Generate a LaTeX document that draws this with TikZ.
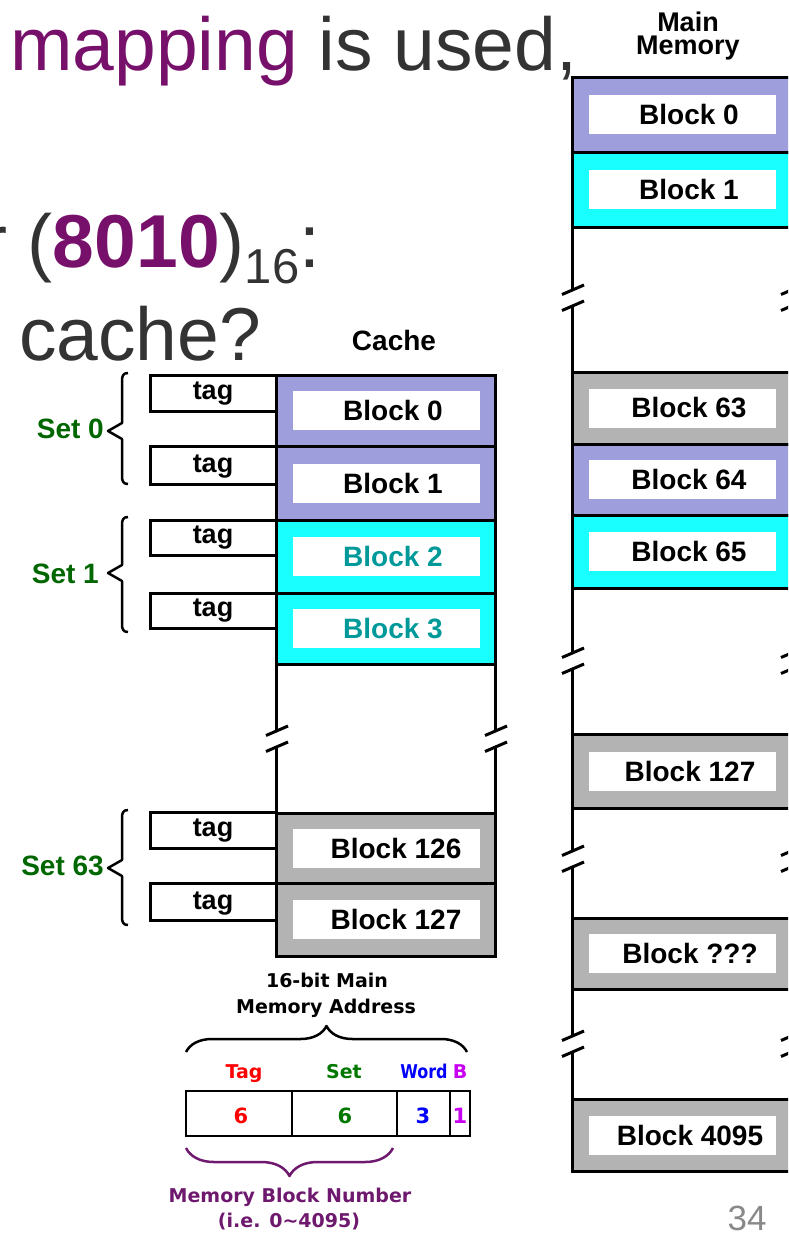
\documentclass[tikz,border=0pt]{standalone}
\usepackage{fontspec}
\setmainfont{Liberation Sans}
\newfontfamily\dvs{DejaVu Sans}
\usetikzlibrary{decorations.pathreplacing}
\definecolor{lav}{RGB}{158,158,220}
\definecolor{cyn}{RGB}{25,255,255}
\definecolor{gry}{RGB}{179,179,179}
\definecolor{txtgray}{RGB}{51,51,51}
\definecolor{slidepurple}{RGB}{118,16,106}
\definecolor{setgreen}{RGB}{0,102,0}
\definecolor{tealtxt}{RGB}{0,153,153}
\definecolor{pagegray}{RGB}{137,137,137}
\definecolor{addrred}{RGB}{255,0,0}
\definecolor{addrgreen}{RGB}{0,120,0}
\definecolor{addrblue}{RGB}{0,0,255}
\definecolor{addrmag}{RGB}{200,0,240}
\definecolor{bracepurple}{RGB}{110,25,110}
% block: name, x1, y1, x2, y2, fill, text, text colour, text x
\newcommand\mblock[9]{%
  \fill[#6] (#2,#3) rectangle (#4,#5);
  \fill[white] ({#2+17},{(#3+#5)/2-19.5}) rectangle ({#4-15},{(#3+#5)/2+19.5});
  \node[blocktext,text=#8] (#1) at (#9,{(#3+#5)/2}) {#7};
  \draw[frame] (#2,#3) rectangle (#4,#5);
}
% column gap with break marks: x, top, bottom, centre
\newcommand\gapcol[4]{%
  \draw[frame] (#1,#2) -- (#1,#4-8);
  \draw[frame] (#1,#4+8) -- (#1,#3);
  \draw[frame] (#1-10,#4-3.5) -- (#1+12,#4-13);
  \draw[frame] (#1-10,#4+12.5) -- (#1+12,#4+3);
}
% left curly brace: x of straight part, top y, bottom y, tip y
\newcommand\setbrace[4]{%
  \draw[bracestyle] (#1+6,#2) .. controls (#1+1,#2) and (#1,#2+3) .. (#1,#2+8)
    -- (#1,#4-8) -- (#1-14,#4) -- (#1,#4+8) -- (#1,#3-8)
    .. controls (#1,#3-3) and (#1+1,#3) .. (#1+6,#3);
}
\begin{document}
\begin{tikzpicture}[x=1pt,y=-1pt,
  frame/.style={draw=black,line width=3pt},
  blocktext/.style={font=\fontsize{28}{28}\selectfont\bfseries,inner sep=0pt},
  tagtext/.style={font=\fontsize{27}{27}\selectfont\bfseries,inner sep=0pt,anchor=base},
  setlabel/.style={font=\fontsize{28}{28}\selectfont\bfseries,text=setgreen,inner sep=0pt,anchor=east},
  bigtext/.style={font=\fontsize{75}{75}\selectfont,text=txtgray,inner sep=0pt,anchor=base west},
  addr/.style={font=\dvs\bfseries\fontsize{19}{19}\selectfont,inner sep=0pt,anchor=base},
  addrnum/.style={font=\dvs\bfseries\fontsize{21}{21}\selectfont,inner sep=0pt,anchor=base},
  bracestyle/.style={draw=black,line width=2.5pt,line join=round}]
\useasboundingbox (0,0) rectangle (788,1234);
\clip (0,0) rectangle (788,1234);

% slide text
\node[bigtext] (title) at (10,70) {\textcolor{slidepurple}{mapping} is used,};
\node[bigtext] (hexline) at (-18,267) {r (\textcolor{slidepurple}{\bfseries 8010})\raisebox{-16pt}{\fontsize{49}{49}\selectfont 16}:};
\node[bigtext] (question) at (19,360) {cache?};
\node[font=\fontsize{35}{35}\selectfont,text=pagegray,inner sep=0pt,anchor=base] (pagenum) at (747,1230) {34};

% main memory
\node[font=\fontsize{27}{24}\selectfont\bfseries,inner sep=0pt,anchor=base] (mmlabel1) at (688,31) {Main};
\node[font=\fontsize{27}{24}\selectfont\bfseries,inner sep=0pt,anchor=base] (mmlabel2) at (688,54) {Memory};
\mblock{mb0}{572}{77}{791}{152}{lav}{Block 0}{black}{689}
\mblock{mb1}{572}{152}{791}{227}{cyn}{Block 1}{black}{689}
\gapcol{572}{227}{372}{298}
\gapcol{791}{227}{372}{298}
\mblock{mb63}{572}{372}{791}{444}{gry}{Block 63}{black}{689}
\mblock{mb64}{572}{444}{791}{515}{lav}{Block 64}{black}{689}
\mblock{mb65}{572}{515}{791}{588}{cyn}{Block 65}{black}{689}
\gapcol{572}{588}{734}{661}
\gapcol{791}{588}{734}{661}
\mblock{mb127}{572}{734}{791}{808}{gry}{Block 127}{black}{690}
\gapcol{572}{808}{918}{859}
\gapcol{791}{808}{918}{859}
\mblock{mbq}{572}{918}{791}{989}{gry}{Block ???}{black}{690}
\gapcol{572}{989}{1099}{1044}
\gapcol{791}{989}{1099}{1044}
\mblock{mb4095}{572}{1099}{791}{1171}{gry}{Block 4095}{black}{690}

% cache
\node[font=\fontsize{28}{28}\selectfont\bfseries,inner sep=0pt,anchor=base] (cachelabel) at (394,350) {Cache};
\mblock{cb0}{276}{375}{495}{446}{lav}{Block 0}{black}{393}
\mblock{cb1}{276}{446}{495}{520}{lav}{Block 1}{black}{393}
\mblock{cb2}{276}{520}{495}{593}{cyn}{Block 2}{tealtxt}{393}
\mblock{cb3}{276}{593}{495}{664}{cyn}{Block 3}{tealtxt}{393}
\gapcol{276}{664}{813}{739}
\gapcol{495}{664}{813}{739}
\mblock{cb126}{276}{813}{495}{883}{gry}{Block 126}{black}{396}
\mblock{cb127}{276}{883}{495}{956}{gry}{Block 127}{black}{396}

% tags
\draw[frame] (150,375) rectangle (276,411);
\node[tagtext] (tag1) at (213,399) {tag};
\draw[frame] (150,446) rectangle (276,484);
\node[tagtext] (tag2) at (213,472) {tag};
\draw[frame] (150,520) rectangle (276,555);
\node[tagtext] (tag3) at (213,543) {tag};
\draw[frame] (150,593) rectangle (276,628);
\node[tagtext] (tag4) at (213,616) {tag};
\draw[frame] (150,812) rectangle (276,848);
\node[tagtext] (tag5) at (213,836) {tag};
\draw[frame] (150,883) rectangle (276,920);
\node[tagtext] (tag6) at (213,909) {tag};

% sets
\setbrace{122}{373}{484}{431}
\node[setlabel] (set0) at (104,429) {Set 0};
\setbrace{122}{517}{632}{573}
\node[setlabel] (set1) at (99,574) {Set 1};
\setbrace{122}{810}{925}{868}
\node[setlabel] (set63) at (104,866) {Set 63};

% address format
\node[addr] (addr1) at (327,987) {16-bit Main};
\node[addr] (addr2) at (326,1013) {Memory Address};
\draw[bracestyle,decorate,decoration={brace,amplitude=26pt}] (186,1052) -- (467,1052);
\node[addr,text=addrred] (ftag) at (244,1078) {Tag};
\node[addr,text=addrgreen] (fset) at (344,1078) {Set};
\node[addr,text=addrblue] (fword) at (424,1078) {\scalebox{0.84}[1]{Word}};
\node[addr,text=addrmag] (fb) at (460,1078) {B};
\draw[black,line width=2.5pt] (186,1091) rectangle (470,1136);
\draw[black,line width=2.5pt] (292,1091) -- (292,1136);
\draw[black,line width=2.5pt] (397,1091) -- (397,1136);
\draw[black,line width=2.5pt] (450,1091) -- (450,1136);
\node[addrnum,text=addrred] (ntag) at (241,1123) {6};
\node[addrnum,text=addrgreen] (nset) at (345,1123) {6};
\node[addrnum,text=addrblue] (nword) at (423,1123) {3};
\node[addrnum,text=addrmag] (nb) at (460,1123) {1};
\draw[bracestyle,draw=bracepurple,decorate,decoration={brace,amplitude=28pt}] (393,1148) -- (186,1148);
\node[addr,text=bracepurple] (mbn1) at (290,1202) {Memory Block Number};
\node[addr,text=bracepurple] (mbn2) at (289,1227) {(i.e. 0\textasciitilde 4095)};
\end{tikzpicture}
\end{document}
